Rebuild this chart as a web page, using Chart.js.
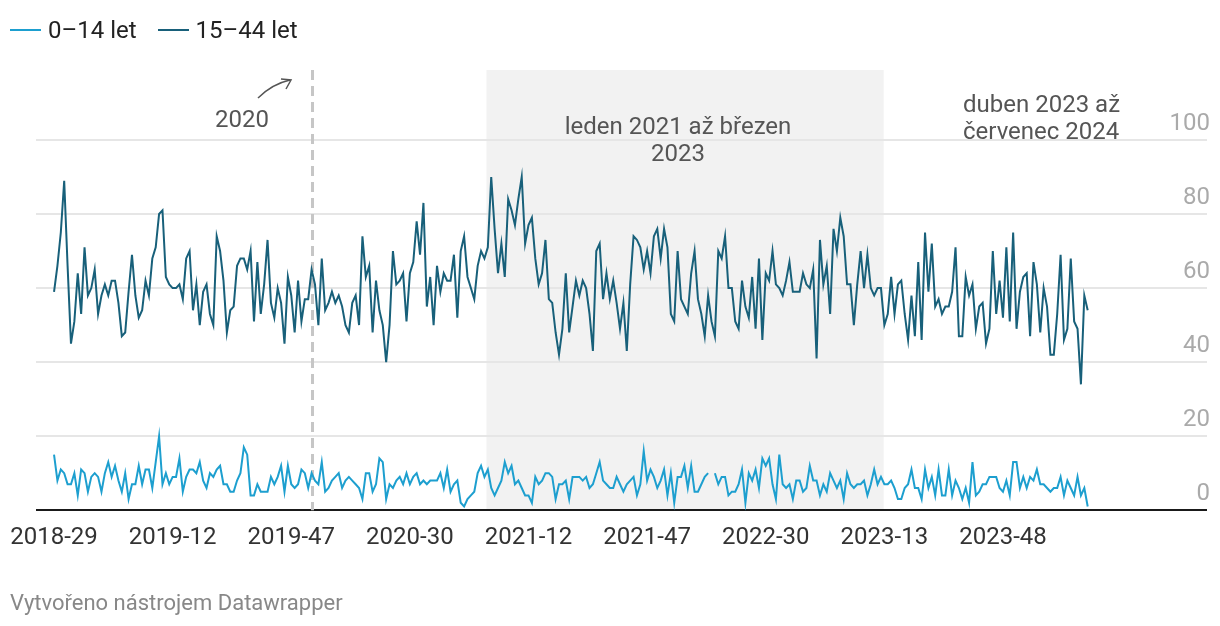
<!DOCTYPE html>
<html>
<head>
<meta charset="utf-8">
<script src="https://cdn.jsdelivr.net/npm/chart.js@4.4.1/dist/chart.umd.min.js"></script>
<style>
  html, body { margin: 0; padding: 0; background: #fff; }
  body { width: 1220px; height: 626px; position: relative; overflow: hidden; font-family: Roboto, sans-serif; }
  #chart { position: absolute; left: 0; top: 0; }
  .legend { position: absolute; left: 10px; top: 15px; display: flex; align-items: center; font-size: 24px; line-height: 30px; color: #222; }
  .legend .item { display: flex; align-items: center; margin-right: 21px; }
  .legend .swatch { display: inline-block; width: 31px; height: 2px; margin-right: 7px; }
  .footer { position: absolute; left: 10px; top: 590px; font-size: 22px; line-height: 26px; color: #888; }
</style>
</head>
<body>
<canvas id="chart" width="1220" height="626"></canvas>
<div class="legend">
  <div class="item"><span class="swatch" style="background:#1d9fcf"></span>0–14 let</div>
  <div class="item"><span class="swatch" style="background:#18607a"></span>15–44 let</div>
</div>
<div class="footer">Vytvořeno nástrojem Datawrapper</div>
<script>
// weekly counts, first week is 2018-29
const startYear = 2018;
const startWeek = 29;
const weeksInYear = { 2018: 52, 2019: 52, 2020: 53, 2021: 52, 2022: 52, 2023: 52, 2024: 52 };

const ages0to14 = [
  15, 8, 11, 10, 7, 7, 10, 4, 11, 10,
  5, 9, 10, 9, 5, 10, 13, 9, 12, 8,
  5, 10, 3, 7, 7, 12, 7, 11, 11, 6,
  13, 20, 7, 10, 7, 9, 9, 14, 5, 9,
  11, 11, 10, 13, 8, 6, 10, 9, 11, 12,
  7, 7, 5, 5, 8, 10, 17, 15, 4, 4,
  7, 5, 5, 5, 9, 7, 9, 12, 5, 12,
  7, 6, 7, 11, 10, 6, 10, 8, 7, 13,
  5, 6, 8, 9, 10, 6, 8, 9, 8, 7,
  6, 3, 10, 10, 5, 7, 14, 13, 3, 7,
  6, 8, 9, 7, 10, 7, 9, 10, 7, 8,
  7, 8, 8, 8, 10, 6, 11, 5, 7, 8,
  2, 1, 3, 4, 5, 10, 12, 9, 11, 6,
  4, 6, 8, 13, 10, 12, 7, 8, 6, 4,
  4, 2, 9, 7, 8, 10, 10, 9, 3, 7,
  7, 8, 3, 9, 9, 9, 8, 9, 6, 7,
  10, 13, 8, 7, 6, 6, 9, 7, 5, 7,
  8, 9, 4, 7, 16, 8, 11, 9, 6, 8,
  11, 4, 10, 2, 9, 9, 12, 6, 12, 5,
  5, 7, 9, 10, null, 10, 7, 9, 9, 4,
  5, 5, 7, 11, 2, 10, 8, 11, 6, 14,
  12, 14, 7, 3, 15, 7, 6, 7, 3, 8,
  8, 5, 6, 12, 8, 8, 4, 7, 5, 10,
  8, 6, 8, 3, 10, 7, 6, 7, 7, 8,
  4, 7, 11, 7, 9, 7, 7, 8, 6, 3,
  3, 6, 7, 11, 6, 6, 3, 11, 6, 9,
  4, 11, 4, 4, 11, 4, 8, 6, 3, 6,
  2, 13, 4, 5, 7, 7, 9, 9, 9, 6,
  5, 8, 4, 13, 13, 6, 9, 6, 9, 8,
  11, 7, 7, 6, 5, 6, 6, 9, 4, 8,
  6, 4, 9, 4, 6, 1
];

const ages15to44 = [
  59, 66, 75, 89, 66, 45, 51, 64, 53, 71,
  58, 60, 65, 53, 58, 61, 58, 62, 62, 56,
  47, 48, 59, 69, 58, 52, 54, 62, 58, 68,
  71, 80, 81, 63, 61, 60, 60, 61, 57, 68,
  70, 54, 61, 50, 59, 61, 53, 50, 74, 70,
  62, 48, 54, 55, 66, 68, 68, 65, 70, 51,
  67, 53, 61, 73, 56, 52, 60, 56, 45, 63,
  58, 48, 62, 51, 57, 57, 65, 61, 50, 68,
  54, 56, 59, 56, 58, 55, 50, 48, 56, 58,
  50, 74, 63, 66, 48, 62, 54, 50, 40, 50,
  70, 61, 62, 64, 51, 64, 67, 78, 69, 83,
  55, 63, 50, 66, 59, 64, 62, 62, 69, 52,
  70, 74, 63, 60, 57, 66, 70, 68, 71, 90,
  76, 64, 72, 63, 84, 81, 77, 84, 90, 72,
  77, 79, 68, 61, 64, 73, 57, 56, 48, 42,
  49, 64, 48, 55, 62, 58, 62, 60, 53, 43,
  70, 72, 57, 64, 57, 62, 56, 49, 56, 43,
  61, 74, 73, 71, 65, 70, 64, 74, 76, 68,
  76, 71, 53, 51, 70, 57, 55, 53, 64, 70,
  57, 53, 47, 58, 51, 47, 70, 68, 74, 60,
  60, 51, 49, 62, 55, 52, 63, 49, 68, 46,
  64, 62, 70, 61, 60, 58, 62, 67, 59, 59,
  59, 64, 61, 60, 65, 41, 73, 61, 66, 53,
  76, 70, 79, 74, 61, 61, 50, 61, 70, 60,
  69, 60, 58, 60, 60, 50, 53, 63, 53, 61,
  62, 53, 46, 58, 47, 67, 46, 75, 59, 72,
  55, 57, 53, 55, 55, 59, 71, 47, 47, 63,
  58, 61, 49, 55, 56, 45, 49, 70, 53, 62,
  52, 71, 51, 75, 49, 59, 63, 64, 47, 67,
  61, 48, 60, 55, 42, 42, 53, 69, 46, 49,
  68, 51, 49, 34, 58, 54
];

const xTickLabels = ['2018-29', '2019-12', '2019-47', '2020-30', '2021-12', '2021-47', '2022-30', '2023-13', '2023-48'];
const yTicks = [0, 20, 40, 60, 80, 100];

// week labels "YYYY-WW"
function buildWeeks(n) {
  const out = [];
  let y = startYear, w = startWeek;
  for (let i = 0; i < n; i++) {
    out.push(y + '-' + String(w).padStart(2, '0'));
    w++;
    if (w > weeksInYear[y]) { w = 1; y++; }
  }
  return out;
}
const weeks = buildWeeks(ages15to44.length);
const xTicks = xTickLabels.map(l => weeks.indexOf(l));

// highlighted period and 2020 marker, in week index units
const bandFrom = 127.6, bandTo = 244.8;
const marker2020 = 76.2;

const toPoints = arr => arr.map((v, i) => ({ x: i, y: v }));

const overlay = {
  id: 'overlay',
  beforeDraw(chart) {
    const { ctx, chartArea, scales } = chart;
    const x1 = scales.x.getPixelForValue(bandFrom);
    const x2 = scales.x.getPixelForValue(bandTo);
    ctx.save();
    ctx.fillStyle = '#f2f2f2';
    ctx.fillRect(x1, chartArea.top, x2 - x1, chartArea.bottom - chartArea.top);
    ctx.restore();
  },
  beforeDatasetsDraw(chart) {
    const { ctx, chartArea, scales } = chart;
    const x = Math.round(scales.x.getPixelForValue(marker2020)) + 0.5;
    ctx.save();
    ctx.strokeStyle = '#c6c6c6';
    ctx.lineWidth = 3;
    ctx.setLineDash([10, 6]);
    ctx.beginPath();
    ctx.moveTo(x, chartArea.top);
    ctx.lineTo(x, chartArea.bottom);
    ctx.stroke();
    ctx.restore();
  },
  afterDraw(chart) {
    const { ctx } = chart;
    ctx.save();
    ctx.fillStyle = '#555';
    ctx.font = '24px Roboto';
    ctx.textBaseline = 'middle';
    ctx.textAlign = 'center';
    ctx.fillText('2020', 242, 121);
    ctx.fillText('leden 2021 až březen', 678, 128);
    ctx.fillText('2023', 678, 155);
    ctx.textAlign = 'left';
    ctx.fillText('duben 2023 až', 963, 106);
    ctx.fillText('červenec 2024', 963, 133);

    // little arrow pointing to the 2020 line
    ctx.strokeStyle = '#555';
    ctx.lineWidth = 1.5;
    ctx.beginPath();
    ctx.moveTo(258, 98);
    ctx.quadraticCurveTo(272, 84, 290, 80);
    ctx.stroke();
    ctx.beginPath();
    ctx.moveTo(281, 79);
    ctx.lineTo(291, 80);
    ctx.lineTo(286, 89);
    ctx.stroke();
    ctx.restore();
  }
};

new Chart(document.getElementById('chart'), {
  type: 'line',
  data: {
    datasets: [
      {
        label: '0–14 let',
        data: toPoints(ages0to14),
        borderColor: '#1d9fcf',
        borderWidth: 2,
        pointRadius: 0,
        tension: 0,
        spanGaps: false
      },
      {
        label: '15–44 let',
        data: toPoints(ages15to44),
        borderColor: '#18607a',
        borderWidth: 2,
        pointRadius: 0,
        tension: 0
      }
    ]
  },
  options: {
    responsive: false,
    animation: false,
    events: [],
    layout: { padding: { left: 36, right: 7, top: 70, bottom: 69 } },
    plugins: { legend: { display: false }, tooltip: { enabled: false } },
    scales: {
      x: {
        type: 'linear',
        min: -5.32,
        max: 340.2,
        afterBuildTicks: s => { s.ticks = xTicks.map(v => ({ value: v })); },
        grid: { display: false },
        border: { display: false },
        ticks: {
          autoSkip: false,
          maxRotation: 0,
          padding: 5,
          color: '#333',
          font: { family: 'Roboto', size: 24 },
          callback: v => weeks[v]
        }
      },
      y: {
        position: 'right',
        min: 0,
        max: 118.9,
        afterBuildTicks: s => { s.ticks = yTicks.map(v => ({ value: v })); },
        border: { display: false },
        grid: {
          drawTicks: false,
          color: c => c.tick.value === 0 ? '#1a1a1a' : '#e6e6e6',
          lineWidth: c => 2
        },
        ticks: {
          mirror: true,
          padding: 3,
          labelOffset: -16,
          color: '#aaaaaa',
          font: { family: 'Roboto', size: 24 }
        }
      }
    }
  },
  plugins: [overlay]
});
</script>
</body>
</html>
